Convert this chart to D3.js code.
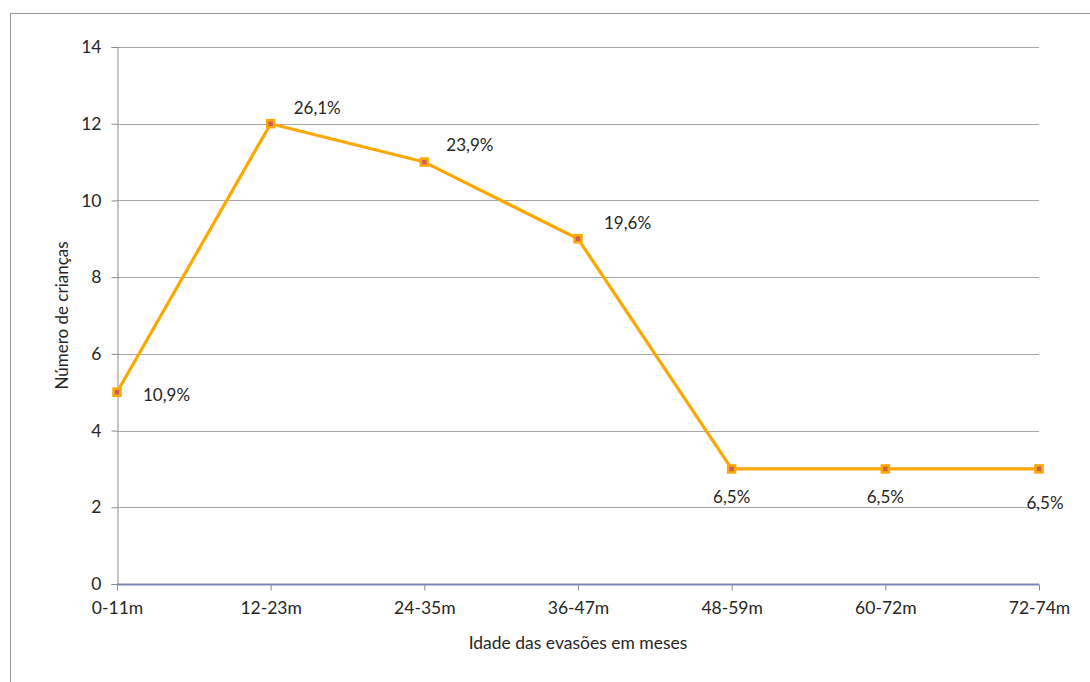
<!DOCTYPE html>
<html>
<head>
<meta charset="utf-8">
<script src="https://cdn.jsdelivr.net/npm/d3@7"></script>
<style>
  html, body { margin: 0; padding: 0; background: #fff; }
  svg { display: block; font-family: Lato, "Open Sans", sans-serif; }
</style>
</head>
<body>
<svg id="chart" width="1090" height="682"></svg>
<script>
const categories = ["0-11m", "12-23m", "24-35m", "36-47m", "48-59m", "60-72m", "72-74m"];
const values = [5, 12, 11, 9, 3, 3, 3];
const percentLabels = ["10,9%", "26,1%", "23,9%", "19,6%", "6,5%", "6,5%", "6,5%"];
const yTicks = [0, 2, 4, 6, 8, 10, 12, 14];
const yTitle = "Número de crianças";
const xTitle = "Idade das evasões em meses";

const FONT = "Lato, 'Open Sans', sans-serif";
const TEXT = "#262626";

const svg = d3.select("#chart");
const margin = { left: 117, right: 1039, top: 47, bottom: 584 };

// outer chart border
svg.append("rect")
  .attr("x", 10.5).attr("y", 13.5)
  .attr("width", 1100).attr("height", 700)
  .attr("fill", "none").attr("stroke", "#9a9a9a").attr("stroke-width", 1);

const x = d3.scalePoint().domain(categories).range([margin.left, margin.right]).padding(0);
const y = d3.scaleLinear().domain([0, 14]).range([margin.bottom, margin.top]);

// gridlines
svg.append("g").selectAll("line")
  .data(yTicks.filter(t => t > 0))
  .join("line")
  .attr("x1", margin.left).attr("x2", margin.right)
  .attr("y1", d => Math.round(y(d)) + 0.5).attr("y2", d => Math.round(y(d)) + 0.5)
  .attr("stroke", "#a6a6a6").attr("stroke-width", 1);

// y axis
const yAxis = svg.append("g")
  .attr("transform", `translate(${margin.left + 0.5},0)`)
  .call(d3.axisLeft(y).tickValues(yTicks).tickSize(6).tickPadding(10).tickFormat(d3.format("d")));
yAxis.select(".domain").attr("stroke", "#8c8c8c");
yAxis.selectAll(".tick line").attr("stroke", "#8c8c8c");
yAxis.selectAll(".tick text")
  .attr("fill", TEXT).style("font-size", "17.5px").style("font-family", FONT);

// x axis
const xAxis = svg.append("g")
  .attr("transform", `translate(0,${margin.bottom + 0.5})`)
  .call(d3.axisBottom(x).tickSize(6).tickPadding(11));
xAxis.select(".domain").attr("stroke", "#7f84b8").attr("stroke-width", 2).attr("d", `M${margin.left},0H${margin.right}`);
xAxis.selectAll(".tick line").attr("stroke", "#8c8c8c");
xAxis.selectAll(".tick text")
  .attr("fill", TEXT).style("font-size", "17.5px").style("font-family", FONT);

// axis titles
svg.append("text")
  .attr("transform", `translate(68,${(margin.top + margin.bottom) / 2}) rotate(-90)`)
  .attr("text-anchor", "middle")
  .attr("fill", TEXT).style("font-size", "17px")
  .text(yTitle);

svg.append("text")
  .attr("x", (margin.left + margin.right) / 2).attr("y", 649)
  .attr("text-anchor", "middle")
  .attr("fill", TEXT).style("font-size", "17.5px")
  .text(xTitle);

// line
const data = categories.map((c, i) => ({ c, v: values[i], label: percentLabels[i] }));
const line = d3.line().x(d => x(d.c)).y(d => y(d.v));
svg.append("path")
  .datum(data)
  .attr("d", line)
  .attr("fill", "none")
  .attr("stroke", "#fba800")
  .attr("stroke-width", 3.2)
  .attr("stroke-linejoin", "round");

// markers
svg.append("g").selectAll("rect")
  .data(data)
  .join("rect")
  .attr("x", d => x(d.c) - 3.5).attr("y", d => y(d.v) - 3.5)
  .attr("width", 7).attr("height", 7)
  .attr("fill", "#c9605a")
  .attr("stroke", "#fba800").attr("stroke-width", 2.5);

// data labels (placement per point, mimicking the original)
const labelOffsets = [
  { dx: 26, dy: 9, anchor: "start" },
  { dx: 23, dy: -10, anchor: "start" },
  { dx: 22, dy: -11, anchor: "start" },
  { dx: 26, dy: -10, anchor: "start" },
  { dx: 0, dy: 34, anchor: "middle" },
  { dx: 0, dy: 34, anchor: "middle" },
  { dx: 6, dy: 40, anchor: "middle" }
];
svg.append("g").selectAll("text")
  .data(data)
  .join("text")
  .attr("x", (d, i) => x(d.c) + labelOffsets[i].dx)
  .attr("y", (d, i) => y(d.v) + labelOffsets[i].dy)
  .attr("text-anchor", (d, i) => labelOffsets[i].anchor)
  .attr("fill", TEXT)
  .style("font-size", "17px")
  .text(d => d.label);
</script>
</body>
</html>
